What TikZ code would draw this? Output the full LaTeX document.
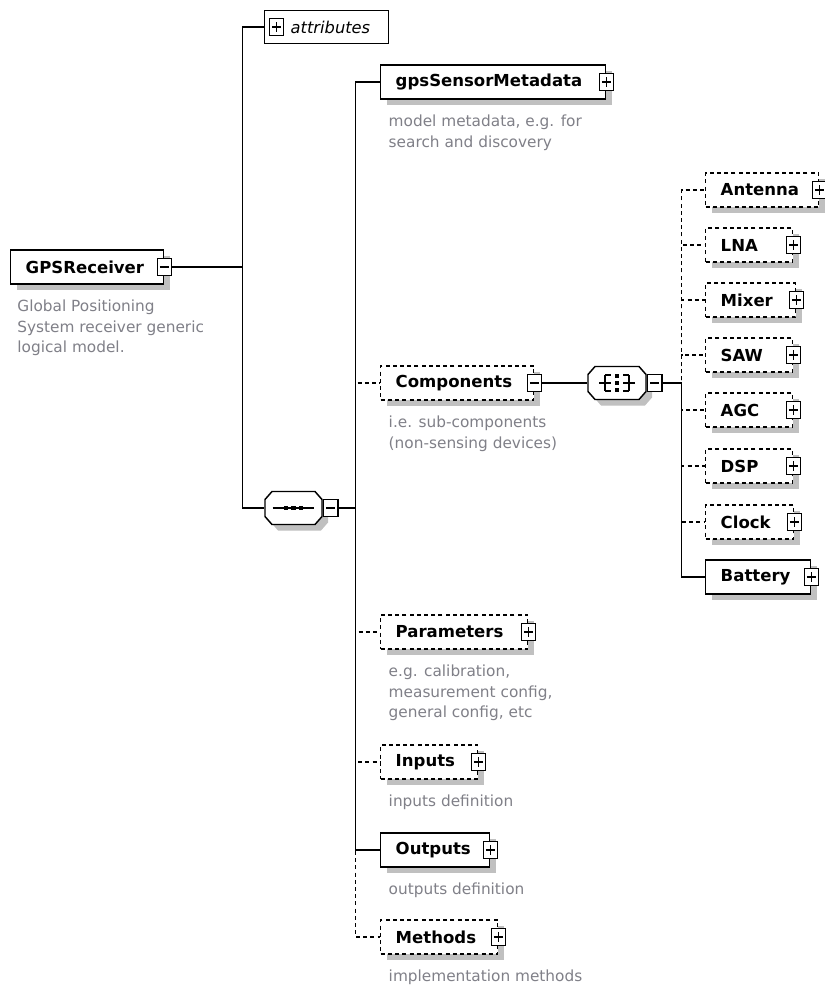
\documentclass[tikz,border=0pt]{standalone}
\usepackage{fontspec}
\setmainfont{DejaVu Sans}
\usepackage{xcolor}
\usepackage{tikz}
\usetikzlibrary{positioning,shadows}
\definecolor{notegray}{RGB}{128,128,136}
\definecolor{shadegray}{RGB}{192,192,192}

\newcommand{\elemfont}{\fontsize{12.4}{14}\selectfont\bfseries}
\newcommand{\notefont}{\fontsize{11.5}{15.4}\selectfont}

% small +/- buttons at the element boxes
\newcommand{\expandbtn}[3][]{%
  \node[btn,#1] (#2) at (#3) {};
  \draw[btnsign] ([xshift=-3.4pt]#2.center) -- ([xshift=3.4pt]#2.center)
                 ([yshift=-3.4pt]#2.center) -- ([yshift=3.4pt]#2.center);}
\newcommand{\collapsebtn}[3][]{%
  \node[btn,#1] (#2) at (#3) {};
  \draw[btnsign] ([xshift=-3.4pt]#2.center) -- ([xshift=3.4pt]#2.center);}
% octagon round a compositor node, #2 = half width (px)
\newcommand{\compoutline}[2]{%
  \begin{scope}[shift={(#1.center)}]
    \fill[shadegray, shift={(6,6)}] (-#2,-8.5) -- (-#2+7,-16.5) -- (#2-7,-16.5) -- (#2,-8.5)
      -- (#2,8.5) -- (#2-7,16.5) -- (-#2+7,16.5) -- (-#2,8.5) -- cycle;
    \draw[fill=white] (-#2,-8.5) -- (-#2+7,-16.5) -- (#2-7,-16.5) -- (#2,-8.5)
      -- (#2,8.5) -- (#2-7,16.5) -- (-#2+7,16.5) -- (-#2,8.5) -- cycle;
  \end{scope}}

\begin{document}
\begin{tikzpicture}[x=0.75pt, y=-0.75pt, line width=1.1pt]
      \tikzstyle{elembox}=[draw, fill=white, anchor=west, minimum height=25.5pt, inner xsep=11.25pt, inner ysep=0pt, align=left, font=\elemfont, general shadow={fill=shadegray, shadow xshift=4.5pt, shadow yshift=-4.5pt}]
      \tikzstyle{optbox}=[elembox, dash pattern=on 3pt off 2.4pt]
      \tikzstyle{compbox}=[minimum height=24.75pt, inner sep=0pt]
      \tikzstyle{btn}=[draw, solid, fill=white, minimum width=11pt, minimum height=12.5pt, inner sep=0pt, line width=0.9pt]
      \tikzstyle{btnsign}=[line width=0.9pt]
      \tikzstyle{note}=[inner sep=0pt, align=left, font=\notefont, text=notegray]
      \tikzstyle{conn}=[line width=1.1pt]
      \tikzstyle{optconn}=[conn, dash pattern=on 3pt off 2.4pt]

      \useasboundingbox (0,0) rectangle (824,987);
      \fill[white] (0,0) rectangle (824,987);

      % root element
      \node[elembox, text width=92.25pt] (gpsr) at (10,267) {GPSReceiver};
      \collapsebtn{gpsrbtn}{gpsr.east}
      \node[note, below=11pt of gpsr.south west, anchor=north west, xshift=5pt] (gpsrnote) {Global Positioning\\System receiver generic\\logical model.};

      % attributes
      \node[draw, fill=white, anchor=west, minimum height=25pt, inner xsep=0pt, text width=93pt, align=left, font=\fontsize{12.2}{14}\selectfont\itshape] (attr) at (264,27) {\hspace*{19.5pt}attributes};
      \expandbtn{attrbtn}{[xshift=9.4pt]attr.west}

      % sequence
      \node[compbox, minimum width=42.75pt] (seq) at (293.5,508) {};
      \compoutline{seq}{28.5}
      \collapsebtn[anchor=west]{seqbtn}{seq.east}
      \begin{scope}[shift={(seq.center)}]
        \draw[line width=1pt] (-21,0) -- (20,0);
        \foreach \d in {-7.5,0,7.5}
          \fill ([shift={(\d,0)}]-2.2,-2.2) rectangle ++(4.4,4.4);
      \end{scope}

      % children of the sequence
      \node[elembox, text width=146.25pt] (gpsmeta) at (380,82) {gpsSensorMetadata};
      \expandbtn{gpsmetabtn}{gpsmeta.east}
      \node[note, below=11pt of gpsmeta.south west, anchor=north west, xshift=6pt] (gpsmetanote) {model metadata, e.g. for\\search and discovery};

      \node[optbox, text width=92.25pt] (comp) at (380,383) {Components};
      \collapsebtn{compbtn}{comp.east}
      \node[note, below=11pt of comp.south west, anchor=north west, xshift=6pt] (compnote) {i.e. sub-components\\(non-sensing devices)};

      \node[optbox, text width=87.75pt] (params) at (380,632) {Parameters};
      \expandbtn{paramsbtn}{params.east}
      \node[note, below=11pt of params.south west, anchor=north west, xshift=6pt] (paramsnote) {e.g. calibration,\\measurement config,\\general config, etc};

      \node[optbox, text width=50.25pt] (inputs) at (380,762) {Inputs};
      \expandbtn{inputsbtn}{inputs.east}
      \node[note, below=11pt of inputs.south west, anchor=north west, xshift=6pt] (inputsnote) {inputs definition};

      \node[elembox, text width=59.25pt] (outputs) at (380,850) {Outputs};
      \expandbtn{outputsbtn}{outputs.east}
      \node[note, below=11pt of outputs.south west, anchor=north west, xshift=6pt] (outputsnote) {outputs definition};

      \node[optbox, text width=65.25pt] (methods) at (380,937) {Methods};
      \expandbtn{methodsbtn}{methods.east}
      \node[note, below=11pt of methods.south west, anchor=north west, xshift=6pt] (methodsnote) {implementation methods};

      % choice of components
      \node[compbox, minimum width=43.5pt] (choice) at (617,383) {};
      \compoutline{choice}{29}
      \collapsebtn[anchor=west]{choicebtn}{choice.east}
      \begin{scope}[shift={(choice.center)}, line width=1pt]
        \draw (-18,0) -- (-6,0) (-12,-8) -- (-12,8) (-12,-8) -- (-6,-8) (-12,8) -- (-6,8);
        \draw (18,0) -- (6,0) (12,-8) -- (12,8) (12,-8) -- (6,-8) (12,8) -- (6,8);
        \foreach \d in {-7,0,7}
          \fill ([shift={(0,\d)}]-1.8,-1.8) rectangle ++(3.6,3.6);
      \end{scope}

      \node[optbox, text width=62.25pt] (antenna) at (705,190) {Antenna};
      \expandbtn{antennabtn}{antenna.east}
      \node[optbox, text width=42.75pt] (lna) at (705,245) {LNA};
      \expandbtn{lnabtn}{lna.east}
      \node[optbox, text width=45pt] (mixer) at (705,300) {Mixer};
      \expandbtn{mixerbtn}{mixer.east}
      \node[optbox, text width=42.75pt] (saw) at (705,355) {SAW};
      \expandbtn{sawbtn}{saw.east}
      \node[optbox, text width=42.75pt] (agc) at (705,410) {AGC};
      \expandbtn{agcbtn}{agc.east}
      \node[optbox, text width=42.75pt] (dsp) at (705,466) {DSP};
      \expandbtn{dspbtn}{dsp.east}
      \node[optbox, text width=43.5pt] (clock) at (705,522) {Clock};
      \expandbtn{clockbtn}{clock.east}
      \node[elembox, text width=56.25pt] (battery) at (705,577) {Battery};
      \expandbtn{batterybtn}{battery.east}

      % connectors
      \coordinate (j0) at ([xshift=52.5pt]gpsrbtn.east);
      \coordinate (j1) at ([xshift=12.75pt]seqbtn.east);
      \coordinate (j2) at ([xshift=14.25pt]choicebtn.east);
      \draw[conn] (gpsrbtn.east) -- (j0) |- (attr.west);
      \draw[conn] (j0) |- (seq.west);
      \foreach \c in {comp, params, inputs, methods}
        \draw[optconn] (seqbtn.east) -- (j1) |- (\c.west);
      \foreach \c in {gpsmeta, outputs}
        \draw[conn] (seqbtn.east) -- (j1) |- (\c.west);
      \draw[conn] (compbtn.east) -- (choice.west);
      \foreach \c in {antenna, lna, mixer, saw, agc, dsp, clock}
        \draw[optconn] (choicebtn.east) -- (j2) |- (\c.west);
      \draw[conn] (choicebtn.east) -- (j2) |- (battery.west);
\end{tikzpicture}
\end{document}
